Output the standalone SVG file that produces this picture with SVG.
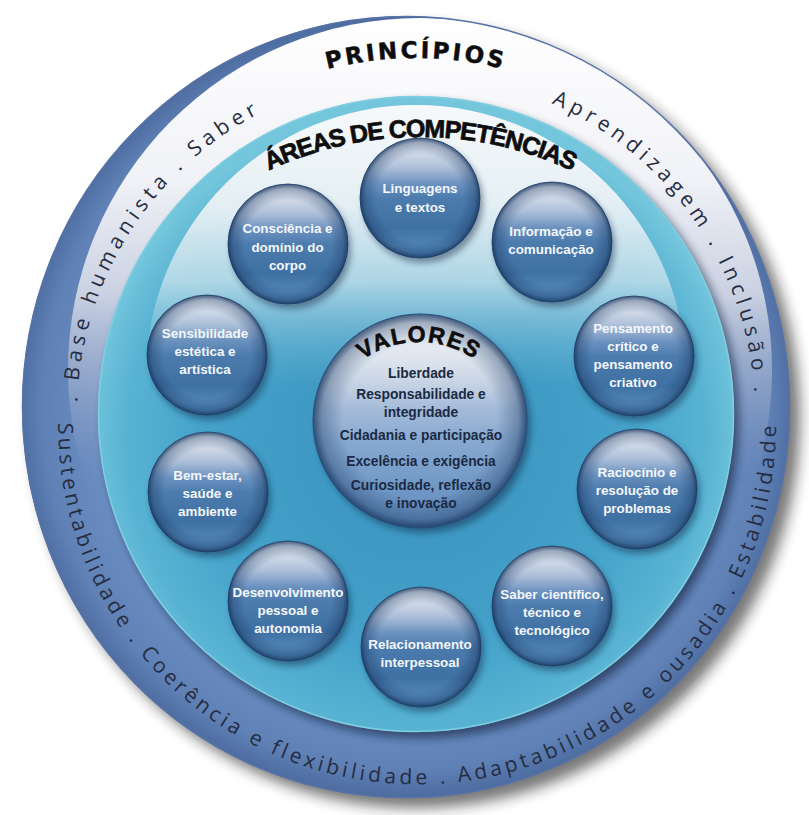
<svg xmlns="http://www.w3.org/2000/svg" width="809" height="815" viewBox="0 0 809 815">
<style>
.ring{font-family:"Open Sans","Noto Sans","DejaVu Sans",sans-serif;font-size:21px;fill:#262c40;}
.ringTop{letter-spacing:5px;}
.ringBot{letter-spacing:3.65px;}
.head{font-family:"DejaVu Sans","Liberation Sans",sans-serif;font-weight:bold;fill:#0d0d0d;stroke:#0d0d0d;stroke-width:0.5px;}
.areas{font-family:"Liberation Sans","Arial",sans-serif;font-weight:bold;font-size:25px;letter-spacing:-1.2px;fill:#0d0d0d;stroke:#0d0d0d;stroke-width:0.7px;}
.val{font-family:"Liberation Sans","Arial",sans-serif;font-weight:bold;font-size:23px;letter-spacing:1.5px;fill:#0d0d0d;stroke:#0d0d0d;stroke-width:0.6px;}
.bt{font-family:"Liberation Sans","Arial",sans-serif;font-weight:bold;font-size:13.4px;fill:#f4f7fb;text-anchor:middle;}
.vt{font-family:"Liberation Sans","Arial",sans-serif;font-weight:bold;font-size:13.8px;fill:#1b2a44;text-anchor:middle;}
</style>
<defs>
<filter id="blurBig" x="-15%" y="-15%" width="130%" height="130%"><feGaussianBlur stdDeviation="7"/></filter>
<filter id="blurMid" x="-15%" y="-15%" width="130%" height="130%"><feGaussianBlur stdDeviation="5"/></filter>
<filter id="blurSm" x="-30%" y="-30%" width="160%" height="160%"><feGaussianBlur stdDeviation="3"/></filter>
<radialGradient id="outerBody" cx="406" cy="407" r="390" gradientUnits="userSpaceOnUse">
<stop offset="0.78" stop-color="#6c8fc3"/>
<stop offset="0.93" stop-color="#5f81b6"/>
<stop offset="1" stop-color="#4d6ca0"/>
</radialGradient>
<linearGradient id="outerHi" x1="0" y1="18" x2="0" y2="480" gradientUnits="userSpaceOnUse">
<stop offset="0" stop-color="#ffffff" stop-opacity="1"/>
<stop offset="0.35" stop-color="#f1f2f7" stop-opacity="1"/>
<stop offset="0.6" stop-color="#cfd5e4" stop-opacity="0.95"/>
<stop offset="0.8" stop-color="#a8b5d0" stop-opacity="0.55"/>
<stop offset="1" stop-color="#8a9cc4" stop-opacity="0"/>
</linearGradient>
<clipPath id="outerClip"><ellipse cx="406" cy="407" rx="384" ry="391"/></clipPath>
<radialGradient id="tealBody" cx="416" cy="440" r="330" gradientUnits="userSpaceOnUse">
<stop offset="0" stop-color="#3890bc"/>
<stop offset="0.65" stop-color="#45a2ca"/>
<stop offset="0.88" stop-color="#58b3d3"/>
<stop offset="1" stop-color="#74c6dc"/>
</radialGradient>
<linearGradient id="tealHi" x1="0" y1="105" x2="0" y2="390" gradientUnits="userSpaceOnUse">
<stop offset="0" stop-color="#f6f9fb" stop-opacity="1"/>
<stop offset="0.35" stop-color="#e4eff4" stop-opacity="1"/>
<stop offset="0.62" stop-color="#b9dbe8" stop-opacity="0.9"/>
<stop offset="0.82" stop-color="#86c3da" stop-opacity="0.45"/>
<stop offset="1" stop-color="#5fb2d2" stop-opacity="0"/>
</linearGradient>
<clipPath id="tealClip"><circle cx="416" cy="414" r="317"/></clipPath>
<linearGradient id="bubBody" x1="0" y1="0" x2="0" y2="1">
<stop offset="0" stop-color="#e8ecf3"/>
<stop offset="0.12" stop-color="#d4dcea"/>
<stop offset="0.25" stop-color="#abbed8"/>
<stop offset="0.38" stop-color="#6c92bf"/>
<stop offset="0.5" stop-color="#4c7cad"/>
<stop offset="0.75" stop-color="#3f70a3"/>
<stop offset="0.9" stop-color="#5287b9"/>
<stop offset="1" stop-color="#4a7fb2"/>
</linearGradient>
<radialGradient id="rim" cx="0.5" cy="0.5" r="0.5">
<stop offset="0.72" stop-color="#17355e" stop-opacity="0"/>
<stop offset="0.92" stop-color="#17355e" stop-opacity="0.35"/>
<stop offset="1" stop-color="#17355e" stop-opacity="0.8"/>
</radialGradient>
<linearGradient id="valBody" x1="0" y1="0" x2="0" y2="1">
<stop offset="0" stop-color="#eef1f6"/>
<stop offset="0.2" stop-color="#e0e6ef"/>
<stop offset="0.33" stop-color="#c6d2e4"/>
<stop offset="0.45" stop-color="#a2bad8"/>
<stop offset="0.6" stop-color="#86a8d0"/>
<stop offset="0.8" stop-color="#7199c6"/>
<stop offset="0.95" stop-color="#6690c0"/>
<stop offset="1" stop-color="#5a86b8"/>
</linearGradient>
<g id="bubble">
<circle cx="3" cy="5" r="60" fill="#0c2440" opacity="0.45" filter="url(#blurSm)"/>
<circle r="60" fill="url(#bubBody)"/>
<circle r="60" fill="url(#rim)" stroke="#1d3e66" stroke-width="0.8"/>
</g>
<path id="pTop" d="M77,414 A339,339 0 0 1 755,414"/>
<path id="pPrin" d="M60,414 A356,356 0 0 1 772,414"/>
<path id="pBot" d="M59.4,393.7 A359,359 0 1 0 774.6,393.7"/>
<path id="pAreas" d="M63,494 A357,357 0 0 1 777,494"/>
<path id="pVal" d="M321,440 A98,98 0 0 1 517,440"/>
</defs>

<rect width="809" height="815" fill="#ffffff"/>

<g id="outer-ring">
<ellipse cx="416" cy="417" rx="384" ry="391" fill="#1a1a1a" opacity="0.6" filter="url(#blurBig)"/>
<ellipse cx="406" cy="407" rx="384" ry="391" fill="url(#outerBody)"/>
<g clip-path="url(#outerClip)">
<circle cx="420" cy="370" r="352" fill="url(#outerHi)"/>
</g>
<ellipse cx="406" cy="407" rx="383.5" ry="390.5" fill="none" stroke="#5772a6" stroke-width="1.5"/>
</g>

<g id="principios">
<text class="ring ringTop"><textPath href="#pTop" startOffset="11.8">. Base</textPath></text>
<text class="ring ringTop"><textPath href="#pTop" startOffset="110.4">humanista</textPath></text>
<text class="ring ringTop"><textPath href="#pTop" startOffset="270.2">. Saber</textPath></text>
<text class="head" font-size="23" letter-spacing="3" text-anchor="middle"><textPath href="#pPrin" startOffset="50%">PRINCÍPIOS</textPath></text>
<text class="ring ringTop"><textPath href="#pTop" startOffset="671.5">Apren</textPath></text>
<text class="ring ringTop"><textPath href="#pTop" startOffset="755.9">dizagem</textPath></text>
<text class="ring ringTop"><textPath href="#pTop" startOffset="884.1">. Inclusão .</textPath></text>
<text class="ring ringBot"><textPath href="#pBot" startOffset="29.4">Sustentabilidade</textPath></text>
<text class="ring ringBot"><textPath href="#pBot" startOffset="260.5">. Coerência</textPath></text>
<text class="ring ringBot"><textPath href="#pBot" startOffset="419.1">e flexibilidade</textPath></text>
<text class="ring ringBot"><textPath href="#pBot" startOffset="618.8">. Adaptabilidade</textPath></text>
<text class="ring ringBot"><textPath href="#pBot" startOffset="845.2">e ousadia</textPath></text>
<text class="ring ringBot"><textPath href="#pBot" startOffset="981.5">. Estabilidade</textPath></text>
</g>

<g id="areas-disc">
<circle cx="421" cy="420" r="318" fill="#0e1d38" opacity="0.6" filter="url(#blurMid)"/>
<circle cx="416" cy="414" r="318" fill="url(#tealBody)"/>
<g clip-path="url(#tealClip)">
<circle cx="416" cy="375" r="270" fill="url(#tealHi)"/>
</g>
<circle cx="416" cy="414" r="317.5" fill="none" stroke="#7fcfe0" stroke-width="1.5"/>
<text class="areas" text-anchor="middle"><textPath href="#pAreas" startOffset="50%">ÁREAS DE COMPETÊNCIAS</textPath></text>
</g>

<g id="connectors"></g>

<g id="node-linguagens">
<use href="#bubble" x="420" y="198"/>
<text class="bt" x="420" y="192.7">Linguagens</text>
<text class="bt" x="420" y="211.7">e textos</text>
</g>
<g id="node-informacao">
<use href="#bubble" x="552" y="242"/>
<text class="bt" x="551" y="235.7">Informação e</text>
<text class="bt" x="551" y="253.7">comunicação</text>
</g>
<g id="node-pensamento">
<use href="#bubble" x="634" y="356"/>
<text class="bt" x="633" y="333.2">Pensamento</text>
<text class="bt" x="633" y="351.2">crítico e</text>
<text class="bt" x="633" y="369.2">pensamento</text>
<text class="bt" x="633" y="387.2">criativo</text>
</g>
<g id="node-raciocinio">
<use href="#bubble" x="637" y="489"/>
<text class="bt" x="637" y="476.7">Raciocínio e</text>
<text class="bt" x="637" y="494.7">resolução de</text>
<text class="bt" x="637" y="512.7">problemas</text>
</g>
<g id="node-saber">
<use href="#bubble" x="552" y="606"/>
<text class="bt" x="552" y="598.7">Saber científico,</text>
<text class="bt" x="552" y="616.7">técnico e</text>
<text class="bt" x="552" y="634.7">tecnológico</text>
</g>
<g id="node-relacionamento">
<use href="#bubble" x="421" y="647"/>
<text class="bt" x="420" y="649.2">Relacionamento</text>
<text class="bt" x="420" y="667.2">interpessoal</text>
</g>
<g id="node-desenvolvimento">
<use href="#bubble" x="288" y="601"/>
<text class="bt" x="288" y="596.7">Desenvolvimento</text>
<text class="bt" x="288" y="614.7">pessoal e</text>
<text class="bt" x="288" y="632.7">autonomia</text>
</g>
<g id="node-bemestar">
<use href="#bubble" x="208" y="492"/>
<text class="bt" x="207.5" y="479.7">Bem-estar,</text>
<text class="bt" x="207.5" y="497.7">saúde e</text>
<text class="bt" x="207.5" y="515.7">ambiente</text>
</g>
<g id="node-sensibilidade">
<use href="#bubble" x="207" y="355"/>
<text class="bt" x="205" y="337.7">Sensibilidade</text>
<text class="bt" x="205" y="355.7">estética e</text>
<text class="bt" x="205" y="373.7">artística</text>
</g>
<g id="node-consciencia">
<use href="#bubble" x="288" y="244"/>
<text class="bt" x="287.5" y="232.7">Consciência e</text>
<text class="bt" x="287.5" y="251.7">domínio do</text>
<text class="bt" x="287.5" y="269.7">corpo</text>
</g>

<g id="node-valores">
<circle cx="424" cy="426" r="107" fill="#0c2440" opacity="0.45" filter="url(#blurSm)"/>
<circle cx="420" cy="421" r="107" fill="url(#valBody)"/>
<circle cx="420" cy="421" r="107" fill="url(#rim)" stroke="#244d7d" stroke-width="1"/>
<text class="val" text-anchor="middle"><textPath href="#pVal" startOffset="50%">VALORES</textPath></text>
<text class="vt" x="421" y="378">Liberdade</text>
<text class="vt" x="421" y="399">Responsabilidade e</text>
<text class="vt" x="421" y="417">integridade</text>
<text class="vt" x="421" y="440">Cidadania e participação</text>
<text class="vt" x="421" y="466">Excelência e exigência</text>
<text class="vt" x="421" y="490">Curiosidade, reflexão</text>
<text class="vt" x="421" y="508">e inovação</text>
</g>
</svg>
